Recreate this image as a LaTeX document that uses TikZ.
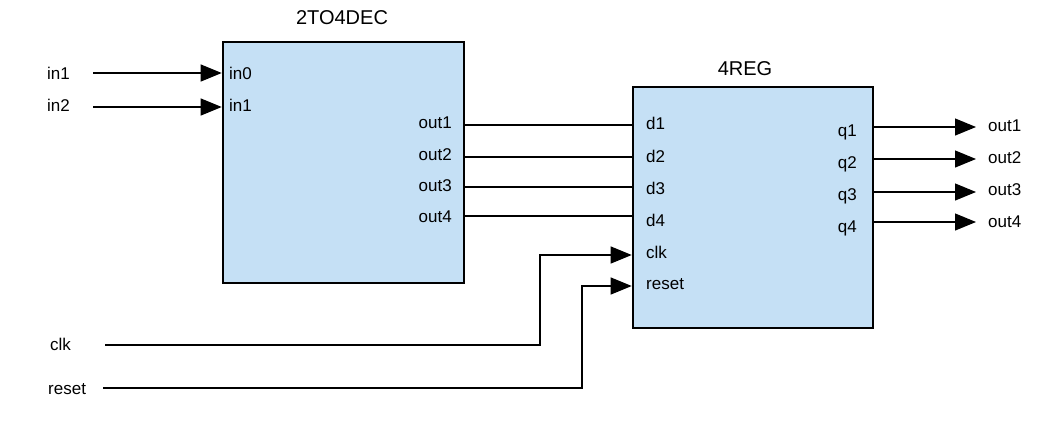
\documentclass[tikz,border=0pt]{standalone}
\usepackage{fontspec}
\setmainfont{Liberation Sans}
\usetikzlibrary{arrows.meta}
\definecolor{boxblue}{RGB}{197,224,245}
\begin{document}
\begin{tikzpicture}[x=1pt,y=-1pt,
  blk/.style={draw=black, line width=2.6pt, fill=boxblue, inner sep=0pt},
  lbl/.style={font=\fontsize{17}{20}\selectfont, inner sep=0pt, text height=12pt, text depth=0pt},
  ttl/.style={font=\fontsize{20}{24}\selectfont, inner sep=0pt, text height=14pt, text depth=0pt},
  wire/.style={line width=1.2pt, draw=black},
  arr/.style={wire, -{Triangle[length=21pt,width=17pt]}}]
\useasboundingbox (0,0) rectangle (1063,421);
% blocks
\node[blk, minimum width=241pt, minimum height=241pt] (dec) at (343.5,162.5) {};
\node[blk, minimum width=240pt, minimum height=241pt] (reg) at (753,207.5) {};
\node[ttl] (tdec) at (342,17) {2TO4DEC};
\node[ttl] (treg) at (745,68) {4REG};
% decoder ports
\node[lbl, anchor=west] (pin0) at (229,73) {in0};
\node[lbl, anchor=west] (pin1) at (229,105) {in1};
\node[lbl, anchor=east] (pout1) at (452,122) {out1};
\node[lbl, anchor=east] (pout2) at (452,154) {out2};
\node[lbl, anchor=east] (pout3) at (452,185) {out3};
\node[lbl, anchor=east] (pout4) at (452,216) {out4};
% register ports
\node[lbl, anchor=west] (pd1) at (646,123) {d1};
\node[lbl, anchor=west] (pd2) at (646,156) {d2};
\node[lbl, anchor=west] (pd3) at (646,188) {d3};
\node[lbl, anchor=west] (pd4) at (646,220) {d4};
\node[lbl, anchor=west] (pclk) at (646,252) {clk};
\node[lbl, anchor=west] (preset) at (646,283) {reset};
\node[lbl, anchor=east] (pq1) at (857,130) {q1};
\node[lbl, anchor=east] (pq2) at (857,162) {q2};
\node[lbl, anchor=east] (pq3) at (857,194) {q3};
\node[lbl, anchor=east] (pq4) at (857,226) {q4};
% external labels
\node[lbl, anchor=west] (xin1) at (47,73) {in1};
\node[lbl, anchor=west] (xin2) at (47,105) {in2};
\node[lbl, anchor=west] (xclk) at (50,344) {clk};
\node[lbl, anchor=west] (xreset) at (48,388) {reset};
\node[lbl, anchor=west] (xout1) at (988,125) {out1};
\node[lbl, anchor=west] (xout2) at (988,157) {out2};
\node[lbl, anchor=west] (xout3) at (988,189) {out3};
\node[lbl, anchor=west] (xout4) at (988,221) {out4};
% wire coordinates
\coordinate (sin1) at (93,73);
\coordinate (sin2) at (93,107);
\coordinate (y1) at (0,125);
\coordinate (y2) at (0,157);
\coordinate (y3) at (0,187);
\coordinate (y4) at (0,216);
\coordinate (sclk) at (105,345);
\coordinate (kclk) at (540,255);
\coordinate (sreset) at (103,388);
\coordinate (kreset) at (582,286);
\coordinate (tq1) at (976,127);
\coordinate (tq2) at (976,159);
\coordinate (tq3) at (976,192);
\coordinate (tq4) at (976,222);
% wires
\draw[arr] (sin1) -- (sin1 -| dec.west);
\draw[arr] (sin2) -- (sin2 -| dec.west);
\draw[wire] (y1 -| dec.east) -- (y1 -| reg.west);
\draw[wire] (y2 -| dec.east) -- (y2 -| reg.west);
\draw[wire] (y3 -| dec.east) -- (y3 -| reg.west);
\draw[wire] (y4 -| dec.east) -- (y4 -| reg.west);
\draw[arr] (sclk) -| (kclk) -- (kclk -| reg.west);
\draw[arr] (sreset) -| (kreset) -- (kreset -| reg.west);
\draw[arr] (tq1 -| reg.east) -- (tq1);
\draw[arr] (tq2 -| reg.east) -- (tq2);
\draw[arr] (tq3 -| reg.east) -- (tq3);
\draw[arr] (tq4 -| reg.east) -- (tq4);
\end{tikzpicture}
\end{document}
